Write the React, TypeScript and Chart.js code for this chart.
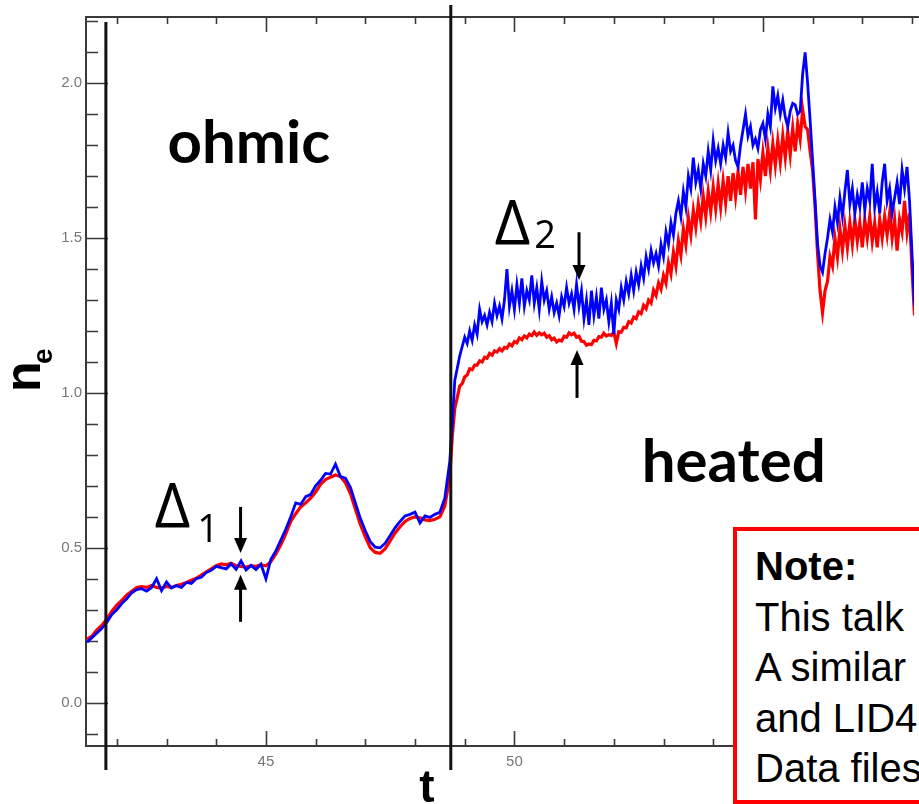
import React, { useEffect, useRef } from 'react';
import { Chart, registerables } from 'chart.js';

Chart.register(...registerables);

// ---- data ----
// ohmic phase: sampled every 0.1 from t = 41.4 to 48.7
const OHMIC_START = 41.4;
const OHMIC_STEP = 0.1;
// heated phase: sampled every 0.05 from t = 48.75 to 58.1
const HEATED_START = 48.75;
const HEATED_STEP = 0.05;

const redOhmic = [
  0.205, 0.215, 0.235, 0.25, 0.27, 0.295, 0.315, 0.33, 0.348, 0.36,
  0.372, 0.375, 0.372, 0.378, 0.372, 0.37, 0.375, 0.372, 0.378, 0.382,
  0.388, 0.395, 0.402, 0.412, 0.422, 0.432, 0.442, 0.448, 0.445, 0.45,
  0.442, 0.44, 0.438, 0.442, 0.44, 0.445, 0.442, 0.455, 0.48, 0.51,
  0.545, 0.585, 0.61, 0.632, 0.645, 0.66, 0.68, 0.705, 0.72, 0.728,
  0.735, 0.73, 0.71, 0.675, 0.625, 0.575, 0.535, 0.5, 0.485, 0.482,
  0.497, 0.522, 0.548, 0.568, 0.585, 0.595, 0.6, 0.597, 0.59, 0.588,
  0.592, 0.6, 0.635, 0.73,
];

const blueOhmic = [
  0.195, 0.21, 0.225, 0.24, 0.26, 0.285, 0.3, 0.32, 0.335, 0.355,
  0.365, 0.368, 0.36, 0.372, 0.4, 0.362, 0.39, 0.37, 0.378, 0.372,
  0.388, 0.385, 0.4, 0.405, 0.42, 0.427, 0.44, 0.436, 0.432, 0.448,
  0.43, 0.458, 0.428, 0.443, 0.43, 0.447, 0.4, 0.463, 0.49, 0.525,
  0.56, 0.6, 0.645, 0.64, 0.665, 0.672, 0.7, 0.718, 0.74, 0.738,
  0.77, 0.73, 0.725, 0.695, 0.645, 0.595, 0.555, 0.52, 0.502, 0.5,
  0.515, 0.54, 0.565, 0.585, 0.603, 0.608, 0.615, 0.58, 0.603, 0.598,
  0.608, 0.615, 0.66, 0.78,
];

const redHeated = [
  0.86, 0.95, 0.985, 1.022, 1.03, 1.052, 1.058, 1.078, 1.075, 1.09,
  1.09, 1.104, 1.1, 1.115, 1.112, 1.128, 1.122, 1.136, 1.132, 1.143,
  1.136, 1.147, 1.145, 1.158, 1.152, 1.166, 1.162, 1.178, 1.172, 1.184,
  1.178, 1.19, 1.185, 1.197, 1.186, 1.194, 1.188, 1.193, 1.18, 1.185,
  1.172, 1.177, 1.165, 1.171, 1.168, 1.183, 1.18, 1.194, 1.188, 1.193,
  1.18, 1.183, 1.167, 1.166, 1.154, 1.158, 1.156, 1.17, 1.168, 1.182,
  1.18, 1.193, 1.184, 1.188, 1.186, 1.196, 1.16, 1.198, 1.196, 1.212,
  1.21, 1.23, 1.226, 1.245, 1.24, 1.262, 1.256, 1.283, 1.272, 1.3,
  1.29, 1.332, 1.315, 1.355, 1.335, 1.38, 1.355, 1.42, 1.385, 1.455,
  1.41, 1.49, 1.445, 1.53, 1.48, 1.565, 1.51, 1.59, 1.535, 1.61,
  1.555, 1.635, 1.57, 1.65, 1.585, 1.665, 1.595, 1.675, 1.6, 1.685,
  1.615, 1.7, 1.62, 1.71, 1.635, 1.715, 1.64, 1.73, 1.655, 1.74,
  1.66, 1.745, 1.56, 1.755, 1.69, 1.775, 1.7, 1.79, 1.72, 1.805,
  1.735, 1.815, 1.745, 1.83, 1.76, 1.845, 1.77, 1.855, 1.78, 1.87,
  1.82, 1.915, 1.86, 1.85, 1.78, 1.72, 1.6, 1.45, 1.33, 1.26,
  1.33, 1.36, 1.44, 1.41, 1.5, 1.44, 1.53, 1.46, 1.54, 1.47,
  1.55, 1.48, 1.56, 1.49, 1.55, 1.47, 1.56, 1.5, 1.57, 1.49,
  1.55, 1.47, 1.56, 1.5, 1.57, 1.51, 1.58, 1.5, 1.56, 1.46,
  1.56, 1.52, 1.62, 1.52, 1.58, 1.4, 1.25, 1.12,
];

const blueHeated = [
  0.9, 1.04, 1.08, 1.12, 1.15, 1.18, 1.16, 1.2, 1.17, 1.22,
  1.19, 1.27, 1.23, 1.25, 1.22, 1.26, 1.23, 1.29, 1.25, 1.28,
  1.24, 1.3, 1.4, 1.28, 1.33, 1.27, 1.35, 1.29, 1.37, 1.28,
  1.33, 1.3, 1.38, 1.29, 1.34, 1.27, 1.36, 1.3, 1.33, 1.27,
  1.31, 1.26, 1.29, 1.25, 1.31, 1.28, 1.34, 1.29, 1.32, 1.27,
  1.35, 1.28, 1.33, 1.24, 1.3, 1.22, 1.33, 1.25, 1.31, 1.24,
  1.34, 1.27, 1.3, 1.23, 1.29, 1.19, 1.3, 1.27, 1.34, 1.3,
  1.36, 1.32, 1.38, 1.33, 1.39, 1.35, 1.41, 1.37, 1.44, 1.4,
  1.46, 1.42, 1.45, 1.41, 1.48, 1.44, 1.52, 1.48, 1.55, 1.51,
  1.58, 1.62, 1.57, 1.65, 1.6, 1.7, 1.66, 1.76, 1.68, 1.72,
  1.66, 1.74, 1.7, 1.78, 1.72, 1.815, 1.75, 1.79, 1.74, 1.8,
  1.76, 1.84, 1.78, 1.8, 1.75, 1.73, 1.8, 1.85, 1.9, 1.83,
  1.86, 1.8, 1.82, 1.79, 1.85, 1.87, 1.82, 1.9, 1.86, 1.99,
  1.92, 1.96, 1.9, 1.945, 1.89, 1.86, 1.91, 1.935, 1.93, 1.9,
  1.91, 2.03, 2.1, 2.0, 1.88, 1.75, 1.62, 1.48, 1.41, 1.39,
  1.45, 1.5, 1.56, 1.52, 1.6, 1.55, 1.63, 1.57, 1.65, 1.72,
  1.61, 1.66, 1.58, 1.64, 1.6, 1.68, 1.59, 1.66, 1.62, 1.74,
  1.6, 1.65, 1.58, 1.68, 1.74, 1.62, 1.66, 1.58, 1.63, 1.68,
  1.61, 1.72, 1.66, 1.73, 1.62, 1.45, 1.28, 1.18,
];

const xTickValues = [42, 43, 44, 45, 46, 47, 48, 49, 50, 51, 52, 53, 54, 55, 56, 57, 58];
const xLabelValues = [45, 50, 55];
const yTickValues = [
  -0.1, 0, 0.1, 0.2, 0.3, 0.4, 0.5, 0.6, 0.7, 0.8, 0.9, 1.0,
  1.1, 1.2, 1.3, 1.4, 1.5, 1.6, 1.7, 1.8, 1.9, 2.0, 2.1, 2.2,
];
const yLabelValues = [0, 0.5, 1.0, 1.5, 2.0];

// phase boundaries (t)
const markerTimes = [41.78, 48.72];

const X_MIN = 41.38;
const X_MAX = 58.04;
const Y_MIN = -0.14;
const Y_MAX = 2.214;

const isIn = (arr: number[], v: number) => arr.some((a) => Math.abs(a - v) < 1e-6);

const W = 919;
const H = 804;

const overlayPlugin = {
  id: 'overlay',
  beforeDatasetsDraw(chart: any) {
    const { ctx, chartArea } = chart;
    const xs = chart.scales.x;
    const ys = chart.scales.y;
    const { left, right, top, bottom } = chartArea;
    ctx.save();
    ctx.strokeStyle = '#3a3a3a';
    ctx.lineWidth = 2;
    ctx.beginPath();
    ctx.moveTo(right + 5, top);
    ctx.lineTo(left, top);
    ctx.lineTo(left, bottom);
    ctx.lineTo(right + 5, bottom);
    ctx.stroke();
    ctx.lineWidth = 1.6;
    ctx.beginPath();
    yTickValues.forEach((v) => {
      const py = Math.round(ys.getPixelForValue(v)) + 0.5;
      const len = isIn(yLabelValues, v) ? 22 : 12;
      ctx.moveTo(left, py);
      ctx.lineTo(left + len, py);
    });
    xTickValues.forEach((v) => {
      const px = Math.round(xs.getPixelForValue(v)) + 0.5;
      const len = isIn(xLabelValues, v) ? 15 : 7;
      ctx.moveTo(px, bottom);
      ctx.lineTo(px, bottom - len);
      ctx.moveTo(px, top);
      ctx.lineTo(px, top + len);
    });
    ctx.stroke();
    ctx.restore();
  },
  afterDatasetsDraw(chart: any) {
    const { ctx, chartArea } = chart;
    const xs = chart.scales.x;
    const ys = chart.scales.y;
    const X = (v: number) => xs.getPixelForValue(v);
    const Y = (v: number) => ys.getPixelForValue(v);
    ctx.save();

    // phase boundary lines
    ctx.strokeStyle = '#111';
    ctx.lineWidth = 3;
    const tops = [chartArea.top + 5, chartArea.top - 12];
    markerTimes.forEach((t, i) => {
      const px = X(t);
      ctx.beginPath();
      ctx.moveTo(px, tops[i]);
      ctx.lineTo(px, chartArea.bottom + 24);
      ctx.stroke();
    });

    // region labels
    ctx.fillStyle = '#000';
    ctx.textBaseline = 'alphabetic';
    ctx.textAlign = 'left';
    ctx.font = 'bold 60px Lato';
    ctx.fillText('ohmic', X(43.02), Y(1.743));
    ctx.fillText('heated', X(52.56), Y(0.713));

    // deltas
    ctx.font = '62px "Open Sans"';
    ctx.fillText('\u0394', X(42.76), Y(0.564));
    ctx.fillText('\u0394', X(49.6), Y(1.478));
    ctx.font = '38px "Open Sans"';
    ctx.fillText('1', X(43.62), Y(0.519));
    ctx.fillText('2', X(50.4), Y(1.468));

    // arrows
    const arrow = (t: number, from: number, to: number) => {
      const px = X(t);
      const y0 = Y(from);
      const y1 = Y(to);
      const dir = y1 > y0 ? 1 : -1;
      ctx.strokeStyle = '#000';
      ctx.lineWidth = 3;
      ctx.beginPath();
      ctx.moveTo(px, y0);
      ctx.lineTo(px, y1 - dir * 10);
      ctx.stroke();
      ctx.beginPath();
      ctx.moveTo(px, y1);
      ctx.lineTo(px - 6.5, y1 - dir * 15);
      ctx.lineTo(px + 6.5, y1 - dir * 15);
      ctx.closePath();
      ctx.fill();
    };
    arrow(44.49, 0.632, 0.483);
    arrow(44.49, 0.261, 0.413);
    arrow(51.3, 1.519, 1.365);
    arrow(51.26, 0.984, 1.139);

    // axis titles
    ctx.font = 'bold 50px "Liberation Sans"';
    ctx.save();
    ctx.translate(40, 392);
    ctx.rotate(-Math.PI / 2);
    ctx.fillText('n', 0, 0);
    ctx.font = 'bold 28px "Liberation Sans"';
    ctx.fillText('e', 28, 12);
    ctx.restore();
    ctx.font = 'bold 46px "Liberation Sans"';
    ctx.textAlign = 'center';
    ctx.fillText('t', 427, 802);

    ctx.restore();
  },
};

export default function App() {
  const canvasRef = useRef<HTMLCanvasElement | null>(null);

  useEffect(() => {
    const canvas = canvasRef.current;
    if (!canvas) return;
    const ohmicT = redOhmic.map((_, i) => +(OHMIC_START + i * OHMIC_STEP).toFixed(3));
    const heatedT = redHeated.map((_, i) => +(HEATED_START + i * HEATED_STEP).toFixed(3));
    const red = [
      ...redOhmic.map((v, i) => ({ x: ohmicT[i], y: v })),
      ...redHeated.map((v, i) => ({ x: heatedT[i], y: v })),
    ];
    const blue = [
      ...blueOhmic.map((v, i) => ({ x: ohmicT[i], y: v })),
      ...blueHeated.map((v, i) => ({ x: heatedT[i], y: v })),
    ];
    const tickFont = { family: '"Liberation Sans", Arial, sans-serif', size: 15 };

    const chart = new Chart(canvas, {
      type: 'line',
      data: {
        datasets: [
          {
            label: 'blue',
            data: blue,
            borderColor: '#0000ff',
            borderWidth: 2.8,
            pointRadius: 0,
            tension: 0,
            fill: false,
          },
          {
            label: 'red',
            data: red,
            borderColor: '#ff0000',
            borderWidth: 3.2,
            pointRadius: 0,
            tension: 0,
            fill: false,
          },
        ],
      },
      options: {
        animation: false,
        responsive: false,
        devicePixelRatio: 1,
        layout: { padding: { top: 17, left: 0, right: 0, bottom: 0 } },
        plugins: { legend: { display: false }, tooltip: { enabled: false } },
        events: [],
        scales: {
          x: {
            type: 'linear',
            min: X_MIN,
            max: X_MAX,
            grid: { display: false, drawTicks: false, tickLength: 0 },
            border: { display: false },
            ticks: {
              autoSkip: false,
              maxRotation: 0,
              padding: 7,
              color: '#777777',
              font: tickFont,
              callback: (v: any) => (isIn(xLabelValues, Number(v)) ? String(v) : ''),
            },
            afterBuildTicks: (s: any) => {
              s.ticks = xTickValues.map((v) => ({ value: v }));
            },
            afterFit: (s: any) => {
              s.height = 58;
            },
          },
          y: {
            type: 'linear',
            min: Y_MIN,
            max: Y_MAX,
            grid: { display: false, drawTicks: false, tickLength: 0 },
            border: { display: false },
            ticks: {
              autoSkip: false,
              padding: 4,
              color: '#777777',
              font: tickFont,
              callback: (v: any) => (isIn(yLabelValues, Number(v)) ? Number(v).toFixed(1) : ''),
            },
            afterBuildTicks: (s: any) => {
              s.ticks = yTickValues.map((v) => ({ value: v }));
            },
            afterFit: (s: any) => {
              s.width = 86;
            },
          },
        },
      },
      plugins: [overlayPlugin],
    } as any);

    return () => chart.destroy();
  }, []);

  return (
    <div
      style={{
        position: 'fixed',
        left: 0,
        top: 0,
        width: W,
        height: H,
        overflow: 'hidden',
        background: '#fff',
      }}
    >
      <canvas ref={canvasRef} width={W} height={H} style={{ display: 'block' }} />
      <div
        style={{
          position: 'absolute',
          left: 733,
          top: 527,
          width: 240,
          height: 277,
          boxSizing: 'border-box',
          border: '4px solid #ff0000',
          background: '#fff',
          padding: '10px 0 0 18px',
          fontFamily: '"Liberation Sans", Arial, sans-serif',
          fontSize: 40,
          lineHeight: '50.5px',
          whiteSpace: 'nowrap',
          color: '#000',
        }}
      >
        <div style={{ fontWeight: 'bold' }}>Note:</div>
        <div>This talk</div>
        <div>A similar</div>
        <div>and LID4</div>
        <div>Data files</div>
      </div>
    </div>
  );
}
